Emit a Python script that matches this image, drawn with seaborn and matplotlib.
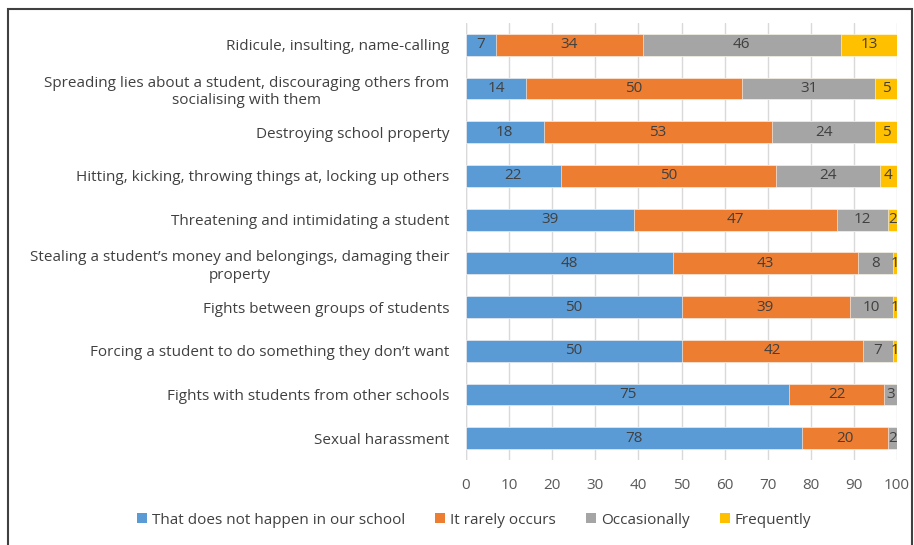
import matplotlib
matplotlib.use("Agg")
import matplotlib.pyplot as plt
import seaborn as sns
import pandas as pd
import numpy as np
from matplotlib.patches import Rectangle, Patch

categories = [
    "Ridicule, insulting, name-calling",
    "Spreading lies about a student, discouraging others from\nsocialising with them",
    "Destroying school property",
    "Hitting, kicking, throwing things at, locking up others",
    "Threatening and intimidating a student",
    "Stealing a student\u2019s money and belongings, damaging their\nproperty",
    "Fights between groups of students",
    "Forcing a student to do something they don\u2019t want",
    "Fights with students from other schools",
    "Sexual harassment",
]
series_names = ["That does not happen in our school", "It rarely occurs",
                "Occasionally", "Frequently"]
not_happen = [7, 14, 18, 22, 39, 48, 50, 50, 75, 78]
rarely = [34, 50, 53, 50, 47, 43, 39, 42, 22, 20]
occasionally = [46, 31, 24, 24, 12, 8, 10, 7, 3, 2]
frequently = [13, 5, 5, 4, 2, 1, 1, 1, 0, 0]
xticks = [0, 10, 20, 30, 40, 50, 60, 70, 80, 90, 100]

colors = ["#5B9BD5", "#ED7D31", "#A5A5A5", "#FFC000"]
text_color = "#404040"
fs = 11

sns.set_theme(style="white")
plt.rcParams["font.family"] = ["Open Sans", "DejaVu Sans"]

df = pd.DataFrame({"category": categories,
                   series_names[0]: not_happen,
                   series_names[1]: rarely,
                   series_names[2]: occasionally,
                   series_names[3]: frequently})
values = df[series_names].to_numpy()
cum = values.cumsum(axis=1)

fig = plt.figure(figsize=(9.14, 5.45), dpi=100)
ax = fig.add_axes([466 / 914, 1 - 460 / 545, (897 - 466) / 914, (460 - 23) / 545])

# stacked bars: draw cumulative totals from the outermost segment inwards
for i in range(3, -1, -1):
    sns.barplot(x=cum[:, i], y=df["category"], orient="h", color=colors[i],
                width=0.5, edgecolor="white", linewidth=0.4, ax=ax,
                saturation=1, order=categories)

# segment value labels
for r in range(len(categories)):
    for i in range(4):
        v = values[r, i]
        if v <= 0:
            continue
        start = cum[r, i] - v
        ax.text(start + v / 2, r, f"{v}", ha="center", va="center",
                fontsize=fs, color=text_color)

ax.set_xlim(0, 100)
ax.set_ylim(9.5, -0.5)
ax.set_xticks(xticks, labels=[str(t) for t in xticks])
ax.set_yticks(range(len(categories)), labels=categories, ma="center",
              linespacing=1.25)
ax.xaxis.grid(True, color="#D9D9D9", linewidth=1)
ax.set_axisbelow(True)
for s in ax.spines.values():
    s.set_visible(False)
ax.axvline(0, color="#D9D9D9", linewidth=1, zorder=0)
ax.set_xlabel("")
ax.set_ylabel("")
ax.tick_params(axis="x", length=0, pad=13, labelsize=fs, labelcolor="#595959")
ax.tick_params(axis="y", length=0, pad=12, labelsize=fs, labelcolor=text_color)

handles = [Patch(facecolor=c, edgecolor="none") for c in colors]
fig.legend(handles, series_names, loc="center", bbox_to_anchor=(474 / 914, 1 - 520 / 545),
           ncol=4, frameon=False, fontsize=fs, handlelength=0.65, handleheight=0.65,
           handletextpad=0.3, columnspacing=2.0, labelcolor=text_color)

# frame around the figure
fig.add_artist(Rectangle((8 / 914, -0.05), (912 - 8) / 914, 1.05 - 9 / 545,
                         transform=fig.transFigure, fill=False,
                         edgecolor="#404040", linewidth=1.5))

fig.savefig("out.png", dpi=100)
